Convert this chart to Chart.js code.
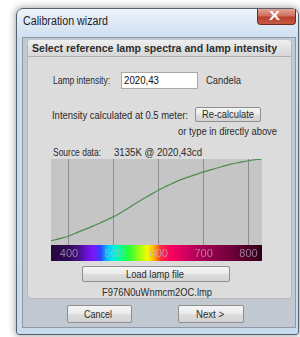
<!DOCTYPE html>
<html>
<head>
<meta charset="utf-8">
<script src="https://cdn.jsdelivr.net/npm/chart.js@4.4.1/dist/chart.umd.min.js"></script>
<style>
  html, body { margin: 0; padding: 0; background: #ffffff; }
  body { width: 300px; height: 337px; position: relative; overflow: hidden; font-family: "Liberation Sans", Arial, sans-serif; }
  .abs { position: absolute; box-sizing: border-box; }
  #win { left: 16px; top: 8px; width: 283px; height: 327px; border: 1px solid #55606c;
         border-radius: 7px 7px 3px 3px;
         background: linear-gradient(to bottom, #eef4fa 0px, #dde8f4 14px, #cddff1 30px, #c8dbef 100%);
         box-shadow: 0 0 7px 1px rgba(0,0,0,0.35); }
  #close { left: 257px; top: 9px; width: 39px; height: 16px; border: 1px solid #6e2a22; border-top: none;
           border-radius: 0 0 4px 4px;
           background: linear-gradient(to bottom, #e4a394 0%, #d0705f 45%, #b8402e 55%, #c55a45 100%); }
  #client { left: 22px; top: 37px; width: 274px; height: 291px; border: 1px solid #8d99a6; background: #c1c8d0; }
  #panel { left: 27px; top: 40px; width: 265px; height: 259px; border: 1px solid #b9b9b9; border-radius: 4px; background: #dcdcdc; }
  #tab { left: 28px; top: 40px; width: 263px; height: 17px; border-bottom: 1px solid #b0b0b0; border-radius: 3px 3px 0 0;
         background: linear-gradient(to bottom, #efefef, #d6d6d6); }
  #tbox { left: 121px; top: 72px; width: 77px; height: 17px; background: #ffffff; border: 1px solid #a9a9a9; }
  .btn { border: 1px solid #8e8e8e; border-radius: 2px; background: linear-gradient(to bottom, #f4f4f4 0%, #ebebeb 48%, #dddddd 52%, #d3d3d3 100%); }
  #chartwrap { left: 51px; top: 159px; width: 211px; height: 102px; }
  .t { position: absolute; white-space: nowrap; color: #2b2b2b; transform-origin: 0 50%; font-size: 11px; line-height: 14px; height: 14px; }
</style>
</head>
<body>
<div id="win" class="abs"></div>
<div id="close" class="abs"></div>
<div id="client" class="abs"></div>
<div id="panel" class="abs"></div>
<div id="tab" class="abs"></div>
<div id="tbox" class="abs"></div>
<div class="abs btn" style="left:195px;top:107px;width:66px;height:15px;"></div>
<div class="abs btn" style="left:82px;top:266px;width:148px;height:16px;"></div>
<div class="abs btn" style="left:67px;top:305px;width:65px;height:18px;"></div>
<div class="abs btn" style="left:178px;top:305px;width:66px;height:18px;"></div>
<div id="chartwrap" class="abs"><canvas id="c" width="211" height="102"></canvas></div>

<span class="t" data-x="269" data-y="16" data-w="11" style="color:#ffffff;font-weight:bold;font-size:12px;">X</span>
<span class="t" data-x="23" data-y="21" data-w="85" style="font-size:12px;color:#1e1e1e;">Calibration wizard</span>
<span class="t" data-x="32" data-y="48" data-w="245" style="font-weight:bold;color:#2e2e2e;">Select reference lamp spectra and lamp intensity</span>
<span class="t" data-x="53" data-y="80" data-w="57">Lamp intensity:</span>
<span class="t" data-x="124" data-y="80" data-w="35" style="color:#111;">2020,43</span>
<span class="t" data-x="206" data-y="80" data-w="35">Candela</span>
<span class="t" data-x="52" data-y="115" data-w="136">Intensity calculated at 0.5 meter:</span>
<span class="t" data-x="202" data-y="114" data-w="52">Re-calculate</span>
<span class="t" data-x="178" data-y="131" data-w="99">or type in directly above</span>
<span class="t" data-x="53" data-y="152" data-w="48">Source data:</span>
<span class="t" data-x="114" data-y="152" data-w="88">3135K @ 2020,43cd</span>
<span class="t" data-x="126" data-y="274" data-w="58">Load lamp file</span>
<span class="t" data-x="102" data-y="292" data-w="110">F976N0uWnmcm2OC.lmp</span>
<span class="t" data-x="84" data-y="314" data-w="28">Cancel</span>
<span class="t" data-x="196" data-y="314" data-w="28">Next &gt;</span>

<script>
// ---- data ----
const wavelengths = [360, 380, 400, 420, 440, 460, 480, 500, 520, 540, 560, 580, 600, 620, 640, 660, 680, 700, 720, 740, 760, 780, 800, 820, 830];
const intensity   = [0.05, 0.075, 0.105, 0.15, 0.19, 0.235, 0.28, 0.33, 0.39, 0.455, 0.52, 0.58, 0.64, 0.69, 0.74, 0.78, 0.815, 0.85, 0.88, 0.91, 0.94, 0.96, 0.98, 0.995, 1.0];
const tickValues  = [400, 500, 600, 700, 800];
const xRange      = [360, 830];

// ---- fit text widths ----
document.querySelectorAll('.t').forEach(el => {
  const x = +el.dataset.x, y = +el.dataset.y, w = +el.dataset.w;
  el.style.left = x + 'px';
  el.style.top = (y - 7) + 'px';
  const actual = el.getBoundingClientRect().width;
  if (actual > 0) el.style.transform = 'scaleX(' + (w / actual) + ')';
});

// ---- spectrum colour stops (style) ----
const spectrumStops = [
  [360, '#25083c'], [400, '#2e0a58'], [420, '#45107e'], [440, '#6a10d8'], [455, '#7a18ff'],
  [470, '#3040ff'], [485, '#00c0ff'], [500, '#00f0e0'], [515, '#00ff90'], [535, '#30ff30'],
  [560, '#b0ff10'], [575, '#f8f800'], [590, '#ffb000'], [605, '#ff2a40'], [625, '#ff0060'],
  [660, '#d00060'], [700, '#a00050'], [760, '#70003a'], [830, '#300018']
];

const bgPlugin = {
  id: 'bg',
  beforeDraw(chart) {
    const {ctx, chartArea: a} = chart;
    const xs = chart.scales.x;
    ctx.save();
    ctx.fillStyle = '#c5c5c5';
    ctx.fillRect(a.left, a.top, a.right - a.left, a.bottom - a.top);
    const g = ctx.createLinearGradient(xs.left, 0, xs.right, 0);
    const span = xRange[1] - xRange[0];
    spectrumStops.forEach(([wl, c]) => g.addColorStop((wl - xRange[0]) / span, c));
    ctx.fillStyle = g;
    ctx.fillRect(xs.left, xs.top, xs.right - xs.left, xs.bottom - xs.top);
    ctx.restore();
  }
};

new Chart(document.getElementById('c'), {
  type: 'line',
  data: {
    datasets: [{
      data: wavelengths.map((w, i) => ({x: w, y: intensity[i]})),
      borderColor: '#4f8c4f',
      borderWidth: 1.2,
      pointRadius: 0,
      cubicInterpolationMode: 'monotone',
      fill: false
    }]
  },
  options: {
    responsive: false,
    animation: false,
    devicePixelRatio: 1,
    layout: { padding: 0 },
    plugins: { legend: { display: false }, tooltip: { enabled: false } },
    scales: {
      x: {
        type: 'linear', min: xRange[0], max: xRange[1],
        afterBuildTicks: s => { s.ticks = tickValues.map(v => ({value: v})); },
        afterFit: s => { s.height = 16; },
        grid: { color: '#8e8e8e', lineWidth: 1, drawTicks: false },
        border: { display: false },
        ticks: { color: 'rgba(190,175,205,0.7)', font: { size: 11, family: 'Liberation Sans' }, padding: 2, maxRotation: 0, autoSkip: false }
      },
      y: { display: false, min: 0, max: 1 }
    }
  },
  plugins: [bgPlugin]
});
</script>
</body>
</html>
